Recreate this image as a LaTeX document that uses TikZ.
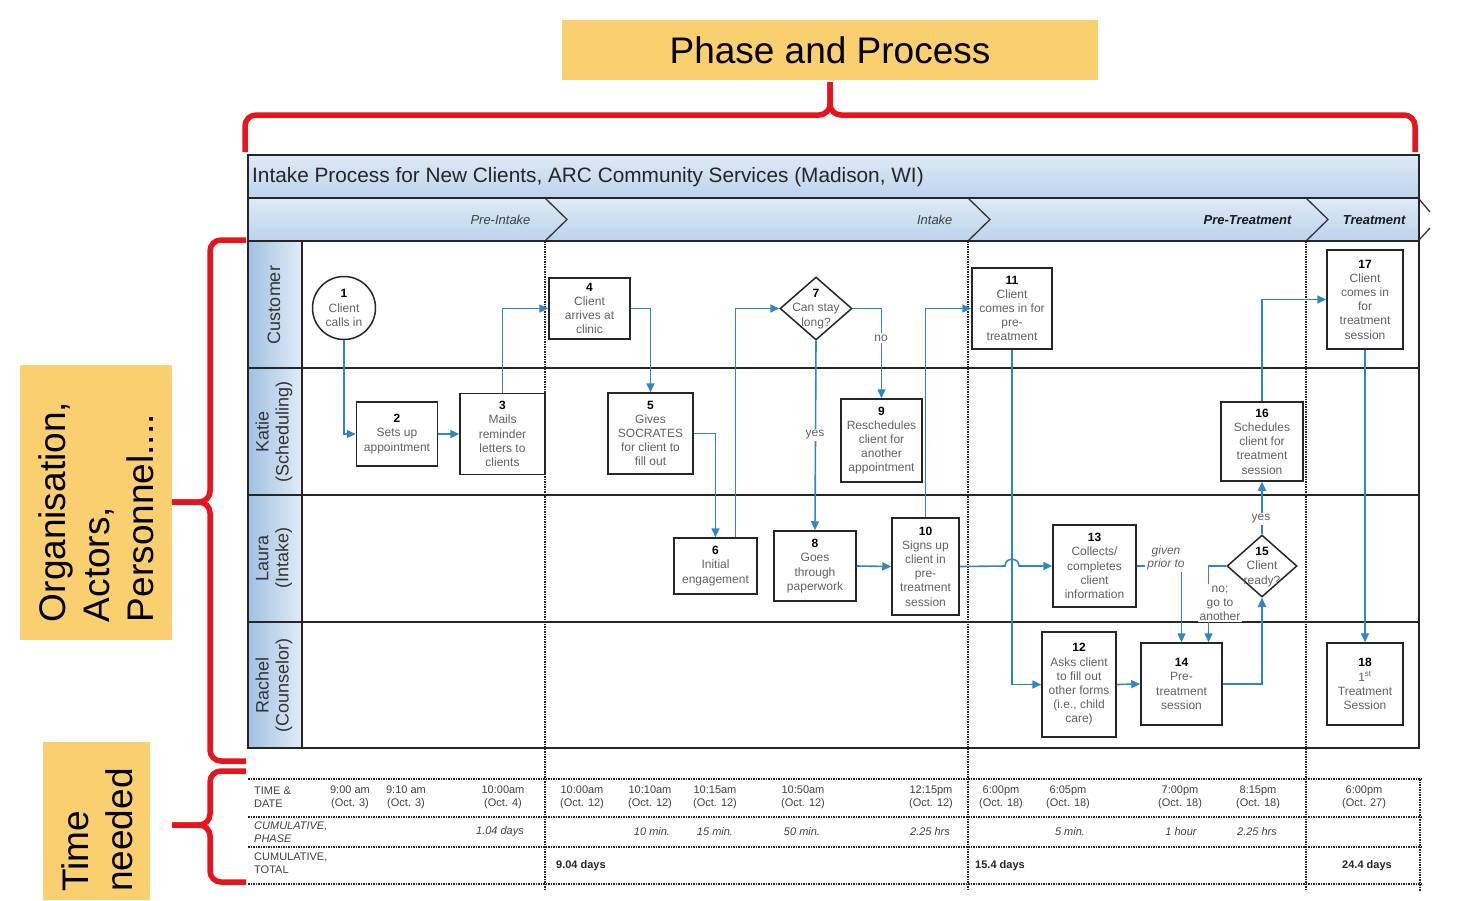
\documentclass[tikz,border=0pt]{standalone}
\usepackage{fontspec}
\setmainfont{Liberation Sans}
\usetikzlibrary{arrows.meta,shapes.geometric,calc}
\definecolor{flowblue}{RGB}{46,134,197}
\definecolor{labelorange}{RGB}{250,207,112}
\definecolor{bracered}{RGB}{232,20,27}
\definecolor{bartop}{RGB}{222,234,246}
\definecolor{barbot}{RGB}{188,211,236}
\definecolor{headleft}{RGB}{160,193,226}
\definecolor{headright}{RGB}{226,236,247}
\newcommand\stepnum[1]{\textcolor{black}{\textbf{#1}}}
\begin{document}
\begin{tikzpicture}[x=1pt,y=-1pt,
  stepbox/.style={draw=black!85, line width=1.5pt, fill=white, align=center, text=black!62,
    font=\fontsize{12}{14.2}\selectfont, inner sep=0pt},
  stepcirc/.style={stepbox, circle, minimum size=63pt},
  stepdia/.style={draw=black!85, line width=1.5pt, fill=white, diamond, inner sep=0pt},
  steptext/.style={align=center, text=black!62, font=\fontsize{12}{14.2}\selectfont, inner sep=0pt},
  flow/.style={draw=flowblue, line width=1.6pt, -{Triangle[length=9pt,width=8pt]}},
  flowlbl/.style={fill=white, inner sep=2pt, text=black!62, align=center, font=\fontsize{12}{13}\selectfont},
  lanelbl/.style={rotate=90, align=center, text=black!80, font=\fontsize{18}{20}\selectfont},
  phaselbl/.style={anchor=east, text=black!75, font=\fontsize{13}{15}\selectfont\itshape},
  tbl/.style={align=center, text=black!75, font=\fontsize{11}{13}\selectfont, inner sep=0pt},
  tbli/.style={tbl, font=\fontsize{11}{13}\selectfont\itshape},
  tblb/.style={tbl, font=\fontsize{11}{13}\selectfont\bfseries, text=black!85},
  dotline/.style={densely dotted, line width=1.5pt, black!85},
  lane/.style={line width=1.8pt, black!85},
  brace/.style={bracered, line width=5.5pt, rounded corners=11pt},
  biglbl/.style={font=\fontsize{37}{44}\selectfont, text=black}
]
\useasboundingbox (0,0) rectangle (1459,900);

% ---------- annotation labels and braces
\node[biglbl, fill=labelorange, minimum width=536pt, minimum height=60pt, inner sep=0pt] (pp) at (830,50) {Phase and Process};
\fill[labelorange] (20,365) rectangle (172,640);
\node[biglbl, rotate=90, align=left] (org) at (96,512) {Organisation,\\Actors,\\Personnel....};
\fill[labelorange] (43,742) rectangle (150,900);
\node[biglbl, rotate=90, align=left] (tn) at (97,830) {Time\\needed};

\draw[brace] (245,152) -- (245,115) -- (830,115) -- (830,82);
\draw[brace] (1415,152) -- (1415,115) -- (830,115) -- (830,82);
\draw[brace] (246,240) -- (210,240) -- (210,502) -- (172,502);
\draw[brace] (246,761) -- (210,761) -- (210,502) -- (172,502);
\draw[brace] (246,771) -- (210,771) -- (210,825) -- (172,825);
\draw[brace] (246,882) -- (210,882) -- (210,825) -- (172,825);

% ---------- pool frame
\shade[top color=bartop, bottom color=barbot] (248,155) rectangle (1419,198);
\shade[top color=bartop, bottom color=barbot] (248,198) rectangle (1419,241);
\shade[left color=headleft, right color=headright] (248,241) rectangle (302,748);
\node[anchor=west, text=black!85, font=\fontsize{20.8}{22}\selectfont, inner sep=0pt] (title) at (252,177)
  {Intake Process for New Clients, ARC Community Services (Madison, WI)};

\draw[line width=1.3pt, black!80] (545,198) -- (567,219.5) -- (545,241);
\draw[line width=1.3pt, black!80] (968,198) -- (990,219.5) -- (968,241);
\draw[line width=1.3pt, black!80] (1306,198) -- (1328,219.5) -- (1306,241);
\draw[line width=1.3pt, black!80] (1419,199) -- (1430,212);
\draw[line width=1.3pt, black!80] (1430,228) -- (1419,240);

\node[phaselbl] (ph1) at (534,220) {Pre-Intake};
\node[phaselbl] (ph2) at (956,220) {Intake};
\node[phaselbl, font=\fontsize{13}{15}\selectfont\bfseries\itshape, text=black!90] (ph3) at (1295,220) {Pre-Treatment};
\node[phaselbl, font=\fontsize{13}{15}\selectfont\bfseries\itshape, text=black!90] (ph4) at (1409,220) {Treatment};

% phase separators (dotted)
\foreach \xx in {545,968,1306} \draw[dotline] (\xx,241) -- (\xx,891);
\draw[dotline] (1420,779) -- (1420,891);

% lanes
\draw[lane] (248,198) -- (1419,198);
\draw[lane] (248,241) -- (1419,241);
\draw[lane] (248,368) -- (1419,368);
\draw[lane] (248,495) -- (1419,495);
\draw[lane] (248,622) -- (1419,622);
\draw[lane] (302,241) -- (302,748);
\draw[line width=1.8pt, black!85] (248,155) rectangle (1419,748);

\node[lanelbl] (l1) at (274,305) {Customer};
\node[lanelbl] (l2) at (274,432) {Katie\\(Scheduling)};
\node[lanelbl] (l3) at (274,558) {Laura\\(Intake)};
\node[lanelbl] (l4) at (274,685) {Rachel\\(Counselor)};

% ---------- table
\foreach \yy in {779,817,847,884} \draw[dotline] (248,\yy) -- (1423,\yy);

\node[tbl, anchor=west, align=left] (r1) at (254,797) {TIME \&\\DATE};
\node[tbli, anchor=west, align=left] (r2) at (254,832) {CUMULATIVE,\\PHASE};
\node[tbl, anchor=west, align=left] (r3) at (254,863) {CUMULATIVE,\\TOTAL};

\node[tbl] (a1) at (350,797) {9:00 am\\(Oct. 3)};
\node[tbl] (a2) at (406,797) {9:10 am\\(Oct. 3)};
\node[tbl] (a3) at (503,797) {10:00am\\(Oct. 4)};
\node[tbl] (a4) at (582,797) {10:00am\\(Oct. 12)};
\node[tbl] (a5) at (650,797) {10:10am\\(Oct. 12)};
\node[tbl] (a6) at (715,797) {10:15am\\(Oct. 12)};
\node[tbl] (a7) at (803,797) {10:50am\\(Oct. 12)};
\node[tbl] (a8) at (931,797) {12:15pm\\(Oct. 12)};
\node[tbl] (a9) at (1001,797) {6:00pm\\(Oct. 18)};
\node[tbl] (a10) at (1068,797) {6:05pm\\(Oct. 18)};
\node[tbl] (a11) at (1180,797) {7:00pm\\(Oct. 18)};
\node[tbl] (a12) at (1258,797) {8:15pm\\(Oct. 18)};
\node[tbl] (a13) at (1364,797) {6:00pm\\(Oct. 27)};

\node[tbli] (b1) at (500,832) {1.04 days};
\node[tbli] (b2) at (652,832) {10 min.};
\node[tbli] (b3) at (715,832) {15 min.};
\node[tbli] (b4) at (802,832) {50 min.};
\node[tbli] (b5) at (930,832) {2.25 hrs};
\node[tbli] (b6) at (1070,832) {5 min.};
\node[tbli] (b7) at (1181,832) {1 hour};
\node[tbli] (b8) at (1257,832) {2.25 hrs};

\node[tblb, anchor=west] (c1) at (556,866) {9.04 days};
\node[tblb, anchor=west] (c2) at (975,866) {15.4 days};
\node[tblb] (c3) at (1367,866) {24.4 days};

% ---------- steps
\node[stepcirc] (n1) at (344,308) {\stepnum{1}\\Client\\calls in};
\node[stepbox, minimum width=81pt, minimum height=64pt] (n2) at (397,434) {\stepnum{2}\\Sets up\\appointment};
\node[stepbox, minimum width=85pt, minimum height=81pt] (n3) at (502.5,434) {\stepnum{3}\\Mails\\reminder\\letters to\\clients};
\node[stepbox, minimum width=81pt, minimum height=61pt] (n4) at (589.5,308.5) {\stepnum{4}\\Client\\arrives at\\clinic};
\node[stepbox, minimum width=85pt, minimum height=81pt] (n5) at (650.5,433.5) {\stepnum{5}\\Gives\\SOCRATES\\for client to\\fill out};
\node[stepbox, minimum width=83pt, minimum height=56pt] (n6) at (715.5,566) {\stepnum{6}\\Initial\\engagement};
\node[stepdia, minimum width=72pt, minimum height=63pt] (d7) at (816,308.5) {};
\node[steptext] (d7t) at (816,309) {\stepnum{7}\\Can stay\\long?};
\node[stepbox, minimum width=82pt, minimum height=70pt] (n8) at (815,566) {\stepnum{8}\\Goes\\through\\paperwork};
\node[stepbox, minimum width=81pt, minimum height=83pt] (n9) at (881.5,440.5) {\stepnum{9}\\Reschedules\\client for\\another\\appointment};
\node[stepbox, minimum width=67pt, minimum height=97pt] (n10) at (925.5,566.5) {\stepnum{10}\\Signs up\\client in\\pre-\\treatment\\session};
\node[stepbox, minimum width=80pt, minimum height=81pt] (n11) at (1012,308.5) {\stepnum{11}\\Client\\comes in for\\pre-\\treatment};
\node[stepbox, minimum width=74pt, minimum height=105pt] (n12) at (1079,684.5) {\stepnum{12}\\Asks client\\to fill out\\other forms\\(i.e., child\\care)};
\node[stepbox, minimum width=83pt, minimum height=82pt] (n13) at (1094.5,566) {\stepnum{13}\\Collects/\\completes\\client\\information};
\node[stepbox, minimum width=81pt, minimum height=82pt] (n14) at (1181.5,684) {\stepnum{14}\\Pre-\\treatment\\session};
\node[stepdia, minimum width=70pt, minimum height=62pt] (d15) at (1262,566) {};
\node[steptext] (d15t) at (1262,567) {\stepnum{15}\\Client\\ready?};
\node[stepbox, minimum width=82pt, minimum height=79pt] (n16) at (1262,441.5) {\stepnum{16}\\Schedules\\client for\\treatment\\session};
\node[stepbox, minimum width=76pt, minimum height=99pt] (n17) at (1365,299.5) {\stepnum{17}\\Client\\comes in\\for\\treatment\\session};
\node[stepbox, minimum width=76pt, minimum height=82pt] (n18) at (1365,684) {\stepnum{18}\\1\textsuperscript{st}\\Treatment\\Session};

% ---------- connectors
\coordinate (hop) at (1012,566);
\draw[flow] (n1.south) |- (n2.west);
\draw[flow] (n2.east) -- (n3.west);
\draw[flow] (n3.north) |- (n4.west);
\draw[flow] (n4.east) -| (n5.north);
\draw[flow] (n5.east) -| (n6.north);
\draw[flow] ([xshift=20pt]n6.north) |- (d7.west);
\draw[flow] (d7.east) -| (n9.north);
\draw[flow] (d7.south) -- (n8.north);
\draw[flow] (n8.east) -- (n10.west);
\draw[flow] (n10.north) |- (n11.west);
\draw[flow] (n11.south) |- (n12.west);
\draw[flow] (n10.east) -- ([xshift=-7pt]hop) .. controls +(0,-9) and +(0,-9) .. ([xshift=7pt]hop) -- (n13.west);
\draw[flow] (n12.east) -- (n14.west);
\draw[flow] (n13.east) -| (n14.north);
\draw[flow] (d15.west) -| ([xshift=27pt]n14.north);
\draw[flow] (n14.east) -| (d15.south);
\draw[flow] (d15.north) -- (n16.south);
\draw[flow] (n16.north) |- (n17.west);
\draw[flow] (n17.south) -- (n18.north);

% connector labels
\node[flowlbl] (lno) at (881,338) {no};
\node[flowlbl] (lyes) at (815,435) {yes};
\node[flowlbl, font=\fontsize{12}{13}\selectfont\itshape] (lgiven) at (1166,558) {given\\prior to};
\node[flowlbl, font=\fontsize{12}{14}\selectfont] (lnogo) at (1220,603) {no;\\go to\\another};
\node[flowlbl] (lyes2) at (1261,519) {yes};
\end{tikzpicture}
\end{document}
